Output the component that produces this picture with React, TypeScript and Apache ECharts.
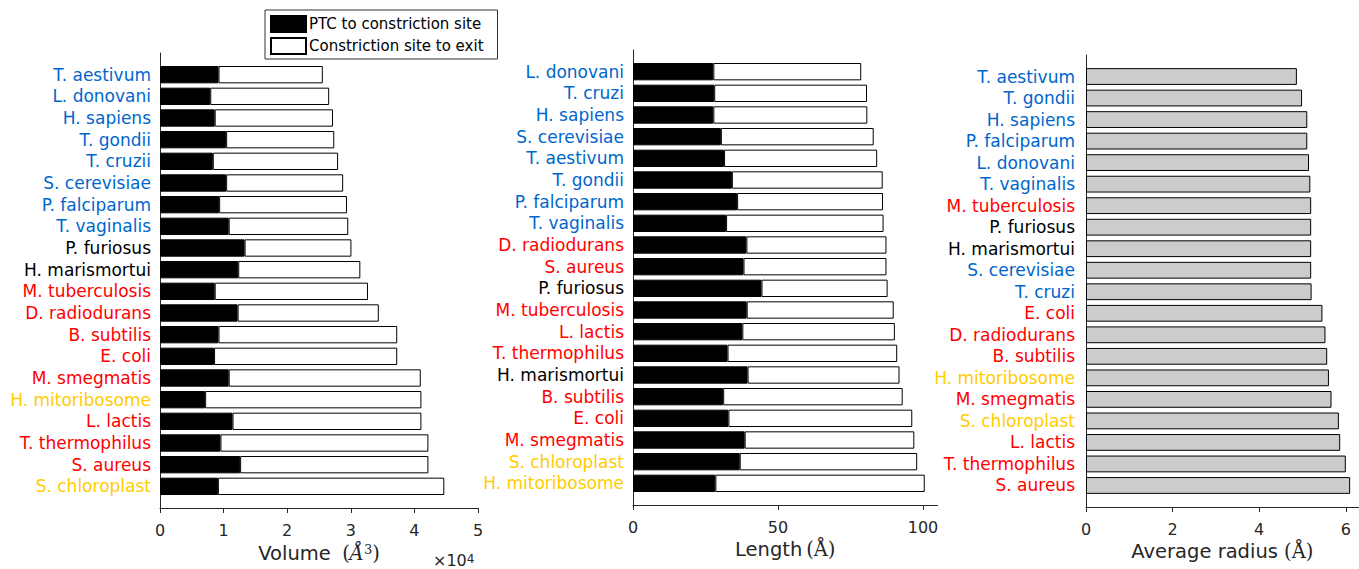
import React, { useEffect, useRef } from "react";
import * as echarts from "echarts";

// ---------- Data ----------
const volumeNames = [
  "T. aestivum", "L. donovani", "H. sapiens", "T. gondii", "T. cruzii",
  "S. cerevisiae", "P. falciparum", "T. vaginalis", "P. furiosus", "H. marismortui",
  "M. tuberculosis", "D. radiodurans", "B. subtilis", "E. coli", "M. smegmatis",
  "H. mitoribosome", "L. lactis", "T. thermophilus", "S. aureus", "S. chloroplast",
];
// Å^3
const volumePTC = [
  9200, 7900, 8600, 10400, 8300, 10400, 9300, 10800, 13300, 12300,
  8600, 12200, 9200, 8500, 10800, 7100, 11400, 9500, 12600, 9100,
];
const volumeExit = [
  16400, 18700, 18600, 17000, 19700, 18400, 20100, 18800, 16800, 19200,
  24100, 22200, 28100, 28800, 30200, 34000, 29700, 32700, 29600, 35600,
];

const lengthNames = [
  "L. donovani", "T. cruzi", "H. sapiens", "S. cerevisiae", "T. aestivum",
  "T. gondii", "P. falciparum", "T. vaginalis", "D. radiodurans", "S. aureus",
  "P. furiosus", "M. tuberculosis", "L. lactis", "T. thermophilus", "H. marismortui",
  "B. subtilis", "E. coli", "M. smegmatis", "S. chloroplast", "H. mitoribosome",
];
// Å
const lengthPTC = [
  27.7, 28.0, 27.7, 30.3, 31.4, 34.1, 35.9, 32.1, 39.1, 38.1,
  44.3, 39.2, 37.7, 32.6, 39.5, 31.1, 32.9, 38.5, 36.8, 28.4,
];
const lengthExit = [
  51.0, 52.7, 53.1, 52.7, 52.8, 52.0, 50.3, 54.3, 48.3, 49.3,
  43.5, 50.7, 52.6, 58.5, 52.4, 61.9, 63.4, 58.5, 61.2, 72.2,
];

const radiusNames = [
  "T. aestivum", "T. gondii", "H. sapiens", "P. falciparum", "L. donovani",
  "T. vaginalis", "M. tuberculosis", "P. furiosus", "H. marismortui", "S. cerevisiae",
  "T. cruzi", "E. coli", "D. radiodurans", "B. subtilis", "H. mitoribosome",
  "M. smegmatis", "S. chloroplast", "L. lactis", "T. thermophilus", "S. aureus",
];
// Å
const radiusValues = [
  4.87, 4.99, 5.11, 5.11, 5.15, 5.18, 5.20, 5.20, 5.20, 5.20,
  5.21, 5.46, 5.53, 5.57, 5.61, 5.67, 5.84, 5.87, 6.00, 6.10,
];

const eukaryotes = [
  "T. aestivum", "L. donovani", "H. sapiens", "T. gondii", "T. cruzii", "T. cruzi",
  "S. cerevisiae", "P. falciparum", "T. vaginalis",
];
const archaea = ["P. furiosus", "H. marismortui"];
const organelles = ["H. mitoribosome", "S. chloroplast"];
// everything else: bacteria (red)

const legendNames = ["PTC to constriction site", "Constriction site to exit"];
const volumeTicks = [0, 10000, 20000, 30000, 40000, 50000];
const lengthTicks = [0, 50, 100];
const radiusTicks = [0, 2, 4, 6];

// ---------- Styling ----------
const FONT = "DejaVu Sans";
const AXIS_COLOR = "#262626";
const BLUE = "#0066cc";
const RED = "#ff0000";
const YELLOW = "#ffcc00";
const BLACK = "#000000";

function groupKey(name: string): string {
  if (eukaryotes.includes(name)) return "eu";
  if (archaea.includes(name)) return "ar";
  if (organelles.includes(name)) return "or";
  return "ba";
}

const LABEL_SIZE = 17;
const labelRich = {
  eu: { color: BLUE, fontFamily: FONT, fontSize: LABEL_SIZE },
  ar: { color: BLACK, fontFamily: FONT, fontSize: LABEL_SIZE },
  or: { color: YELLOW, fontFamily: FONT, fontSize: LABEL_SIZE },
  ba: { color: RED, fontFamily: FONT, fontSize: LABEL_SIZE },
};

const pad = <T,>(arr: T[]): (T | null)[] => [null, ...arr, null];
const padNames = (arr: string[]) => ["", ...arr, ""];

function yAxisFor(names: string[], gridIndex: number, margin: number) {
  return {
    type: "category",
    gridIndex,
    data: padNames(names),
    inverse: true,
    boundaryGap: false,
    axisLine: { show: true, lineStyle: { color: AXIS_COLOR, width: 1 } },
    axisTick: { show: false },
    splitLine: { show: false },
    axisLabel: {
      margin,
      interval: 0,
      formatter: (v: string) => (v ? `{${groupKey(v)}|${v}}` : ""),
      rich: labelRich,
    },
  };
}

function xAxisFor(
  gridIndex: number,
  max: number,
  ticks: number[],
  name: string,
  rich: any,
  fmt?: (v: number) => string
) {
  return {
    type: "value",
    gridIndex,
    min: 0,
    max,
    axisLine: { show: true, lineStyle: { color: AXIS_COLOR, width: 1 } },
    axisTick: {
      show: true,
      length: 5,
      customValues: ticks,
      lineStyle: { color: AXIS_COLOR },
    },
    splitLine: { show: false },
    axisLabel: {
      customValues: ticks,
      margin: 14,
      color: AXIS_COLOR,
      fontFamily: FONT,
      fontSize: 16,
      formatter: fmt ? fmt : (v: number) => String(v),
    },
    name,
    nameLocation: "middle",
    nameGap: 31,
    nameTextStyle: { rich },
  };
}

const nameRich = {
  a: { fontFamily: FONT, fontSize: 19.5, color: AXIS_COLOR },
  p: { fontFamily: "DejaVu Serif", fontSize: 19.5, color: AXIS_COLOR },
  i: { fontFamily: "DejaVu Serif", fontStyle: "italic", fontSize: 19.5, color: AXIS_COLOR },
  s: {
    fontFamily: "DejaVu Serif",
    fontSize: 13,
    color: AXIS_COLOR,
    verticalAlign: "top",
    padding: [0, 0, 8, 0],
  },
};

const barBorder = { borderColor: "#000", borderWidth: 1 };

export default function App() {
  const ref = useRef<HTMLDivElement>(null);

  useEffect(() => {
    document.body.style.margin = "0";
    if (!ref.current) return;
    const chart = echarts.init(ref.current, null, { renderer: "svg" });

    const option: any = {
      animation: false,
      backgroundColor: "#ffffff",
      textStyle: { fontFamily: FONT },
      grid: [
        { left: 160, top: 53, width: 318, height: 455 },
        { left: 633, top: 50, width: 304.5, height: 455 },
        { left: 1086, top: 55, width: 272.8, height: 452 },
      ],
      legend: {
        left: 265,
        top: 10,
        orient: "vertical",
        data: legendNames,
        itemWidth: 35,
        itemHeight: 16,
        itemGap: 4,
        padding: [5, 14, 4, 5],
        borderColor: "#333",
        borderWidth: 1,
        backgroundColor: "#fff",
        icon: "rect",
        selectedMode: false,
        textStyle: { fontFamily: FONT, fontSize: 15, color: "#000", padding: [0, 0, 0, -2] },
      },
      xAxis: [
        xAxisFor(0, 50000, volumeTicks, "{a|Volume}   {p|(}{i|Å}{s|3}{p|)}", nameRich, (v) =>
          String(v / 10000)
        ),
        xAxisFor(1, 105, lengthTicks, "{a|Length} {p|(Å)}", nameRich),
        xAxisFor(2, 6.3, radiusTicks, "{a|Average radius }{p|(Å)}", nameRich),
      ],
      yAxis: [
        yAxisFor(volumeNames, 0, 9),
        yAxisFor(lengthNames, 1, 9),
        yAxisFor(radiusNames, 2, 11),
      ],
      series: [
        {
          name: legendNames[0],
          type: "bar",
          xAxisIndex: 0,
          yAxisIndex: 0,
          stack: "vol",
          barWidth: "80%",
          data: pad(volumePTC),
          itemStyle: { color: "#000", ...barBorder },
        },
        {
          name: legendNames[1],
          type: "bar",
          xAxisIndex: 0,
          yAxisIndex: 0,
          stack: "vol",
          barWidth: "80%",
          data: pad(volumeExit),
          itemStyle: { color: "#fff", ...barBorder },
        },
        {
          name: legendNames[0],
          type: "bar",
          xAxisIndex: 1,
          yAxisIndex: 1,
          stack: "len",
          barWidth: "80%",
          data: pad(lengthPTC),
          itemStyle: { color: "#000", ...barBorder },
        },
        {
          name: legendNames[1],
          type: "bar",
          xAxisIndex: 1,
          yAxisIndex: 1,
          stack: "len",
          barWidth: "80%",
          data: pad(lengthExit),
          itemStyle: { color: "#fff", ...barBorder },
        },
        {
          name: "Average radius",
          type: "bar",
          xAxisIndex: 2,
          yAxisIndex: 2,
          barWidth: "78%",
          data: pad(radiusValues),
          itemStyle: { color: "#cccccc", ...barBorder },
        },
      ],
      graphic: [
        {
          type: "text",
          left: 433,
          top: 552,
          style: {
            text: "{a|×10}{s|4}",
            rich: {
              a: {
                fontFamily: FONT,
                fontSize: 16,
                lineHeight: 14,
                fill: AXIS_COLOR,
                color: AXIS_COLOR,
              },
              s: {
                fontFamily: FONT,
                fontSize: 12,
                lineHeight: 10,
                fill: AXIS_COLOR,
                color: AXIS_COLOR,
                verticalAlign: "top",
                padding: [0, 0, 4, 0],
              },
            },
          },
        },
      ],
    };

    chart.setOption(option);
    return () => chart.dispose();
  }, []);

  return <div ref={ref} style={{ width: 1359, height: 569 }} />;
}
